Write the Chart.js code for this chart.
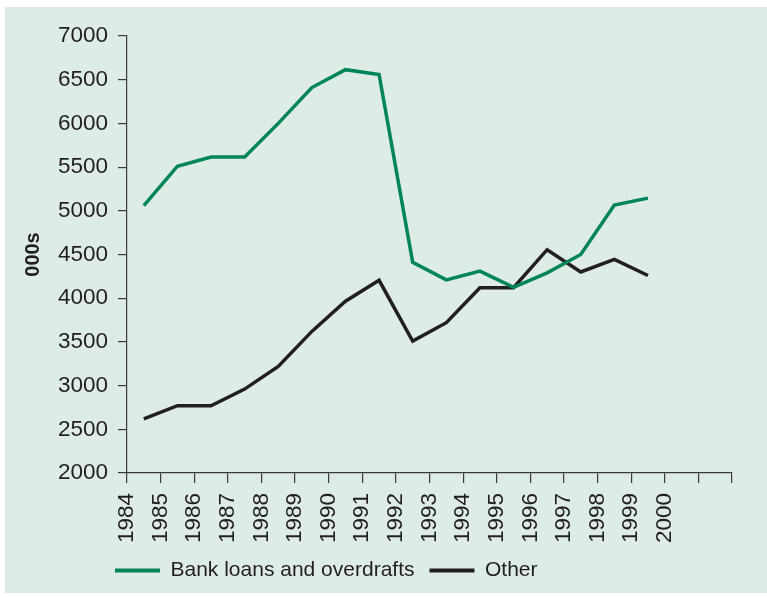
<!DOCTYPE html>
<html>
<head>
<meta charset="utf-8">
<script src="https://cdn.jsdelivr.net/npm/chart.js@4"></script>
<style>
  html, body { margin: 0; padding: 0; background: #ffffff; }
  #wrap { position: absolute; left: 5px; top: 7px; width: 762px; height: 586px; background: #deece6; }
  canvas { display: block; }
</style>
</head>
<body>
<div id="wrap"><canvas id="chart" width="762" height="586"></canvas></div>
<script>
// --- Data ---
const years = [1984, 1985, 1986, 1987, 1988, 1989, 1990, 1991, 1992, 1993, 1994, 1995, 1996, 1997, 1998, 1999];
const bankLoans = [5060, 5510, 5615, 5615, 6000, 6410, 6615, 6560, 4410, 4210, 4310, 4125, 4290, 4500, 5065, 5145];
const other = [2620, 2770, 2770, 2960, 3220, 3620, 3965, 4205, 3510, 3720, 4120, 4120, 4555, 4300, 4445, 4260];
const tickLabels = ['1984', '1985', '1986', '1987', '1988', '1989', '1990', '1991', '1992',
                    '1993', '1994', '1995', '1996', '1997', '1998', '1999', '2000'];
const seriesNames = ['Bank loans and overdrafts', 'Other'];

const GREEN = '#00845a';
const DARK = '#231f20';
const FONT = "'Liberation Sans', Arial, sans-serif";

// each year's value sits halfway between its tick marks
const toPoints = vals => vals.map((v, i) => ({ x: years[i] + 0.5, y: v }));

// nudge the legend to sit under the left part of the plot
const legendShift = {
  id: 'legendShift',
  afterLayout(chart) {
    const lg = chart.legend;
    if (lg) { lg.left += 79; lg.right += 79; }
  }
};

const ctx = document.getElementById('chart').getContext('2d');
new Chart(ctx, {
  type: 'line',
  data: {
    datasets: [
      { label: seriesNames[0], data: toPoints(bankLoans), borderColor: GREEN, backgroundColor: GREEN,
        borderWidth: 3.5, pointRadius: 0, tension: 0 },
      { label: seriesNames[1], data: toPoints(other), borderColor: DARK, backgroundColor: DARK,
        borderWidth: 3.5, pointRadius: 0, tension: 0 }
    ]
  },
  options: {
    responsive: false,
    animation: false,
    layout: { padding: { left: 16, right: 35, top: 29, bottom: 2 } },
    plugins: {
      tooltip: { enabled: false },
      legend: {
        position: 'bottom',
        align: 'start',
        labels: {
          color: DARK,
          font: { family: FONT, size: 21 },
          boxWidth: 45,
          boxHeight: 4,
          padding: 15,
          generateLabels: chart => Chart.defaults.plugins.legend.labels.generateLabels(chart)
            .map(l => Object.assign(l, { lineWidth: 0 }))
        }
      }
    },
    scales: {
      x: {
        type: 'linear',
        min: 1984,
        max: 2002,
        afterFit: s => { s.height = 72; s.paddingRight = 0; },
        border: { display: true, color: '#3a3a3a', width: 1.2 },
        grid: { drawOnChartArea: false, drawTicks: true, tickLength: 10, color: '#3a3a3a', lineWidth: 1.2 },
        ticks: {
          stepSize: 1,
          autoSkip: false,
          maxRotation: 90,
          minRotation: 90,
          padding: 10,
          color: DARK,
          font: { family: FONT, size: 22.5 },
          callback: (v, i) => tickLabels[i] || ''
        }
      },
      y: {
        min: 2000,
        max: 7000,
        afterFit: s => { s.width = 106; },
        border: { display: true, color: '#3a3a3a', width: 1.2 },
        grid: { drawOnChartArea: false, drawTicks: true, tickLength: 9, color: '#3a3a3a', lineWidth: 1.2 },
        ticks: {
          stepSize: 500,
          padding: 10,
          color: DARK,
          font: { family: FONT, size: 22.5 },
          callback: v => String(v)
        },
        title: {
          display: true,
          text: '000s',
          color: DARK,
          font: { family: FONT, size: 20, weight: 'bold' },
          padding: { top: 0, bottom: 0 }
        }
      }
    }
  },
  plugins: [legendShift]
});
</script>
</body>
</html>
